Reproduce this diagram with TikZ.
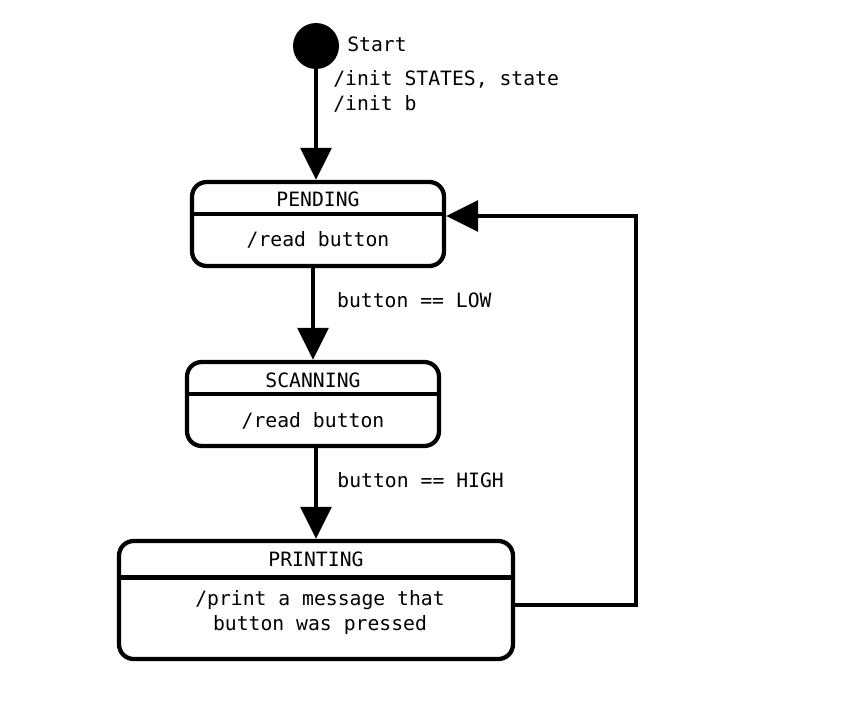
\documentclass[tikz,border=0pt]{standalone}
\usepackage{fontspec}
\usepackage{tikz}
\usetikzlibrary{arrows.meta}
\setmainfont{DejaVu Sans Mono}

\tikzset{
  statebox/.style={draw, line width=3.2pt, rounded corners=11pt, inner sep=0pt, minimum width=189pt, minimum height=63pt},
  divider/.style={line width=3.2pt},
  arr/.style={line width=3.2pt, -{Triangle[length=24pt, width=23pt]}},
  txt/.style={inner sep=0pt, font=\fontsize{14.8}{18.75}\selectfont}
}

\begin{document}
\begin{tikzpicture}[x=0.75pt, y=-0.75pt]
\useasboundingbox (0,0) rectangle (847,710);
% start
\node[circle, fill, inner sep=0pt, minimum size=34.5pt] (start) at (316,46) {};
\node[txt, anchor=west] (startlbl) at (347,44) {Start};
\node[txt, anchor=west, align=left] (initlbl) at (333,91.5) {/init STATES, state\\/init b};
% states
\node[statebox] (pending) at (318,224) {};
\node[statebox] (scanning) at (313,404) {};
\node[statebox, minimum width=295.5pt, minimum height=88.5pt] (printing) at (316,600) {};
\draw[divider] ([yshift=-25.5pt]pending.north west) -- ([yshift=-25.5pt]pending.north east);
\draw[divider] ([yshift=-25.5pt]scanning.north west) -- ([yshift=-25.5pt]scanning.north east);
\draw[divider] ([yshift=-29pt]printing.north west) -- ([yshift=-29pt]printing.north east);
\node[txt] (pendtitle) at (318,199) {PENDING};
\node[txt] (pendbody) at (318,240) {/read button};
\node[txt] (scantitle) at (313,380) {SCANNING};
\node[txt] (scanbody) at (313,421) {/read button};
\node[txt] (printtitle) at (316,559) {PRINTING};
\node[txt, align=center] (printbody) at (320,613) {/print a message that\\button was pressed};
% transitions
\draw[arr] (start) -- (start |- pending.north);
\draw[arr] (scanning.north |- pending.south) -- (scanning.north)
  node[txt, pos=0.35, right=16.5pt] (lowlbl) {button == LOW};
\draw[arr] (printing.north |- scanning.south) -- (printing.north)
  node[txt, pos=0.35, right=14.5pt] (highlbl) {button == HIGH};
\coordinate (loop) at (636,400);
\draw[arr] ([yshift=-3.75pt]printing.east) -| (loop) |- ([yshift=6pt]pending.east);
\end{tikzpicture}
\end{document}
